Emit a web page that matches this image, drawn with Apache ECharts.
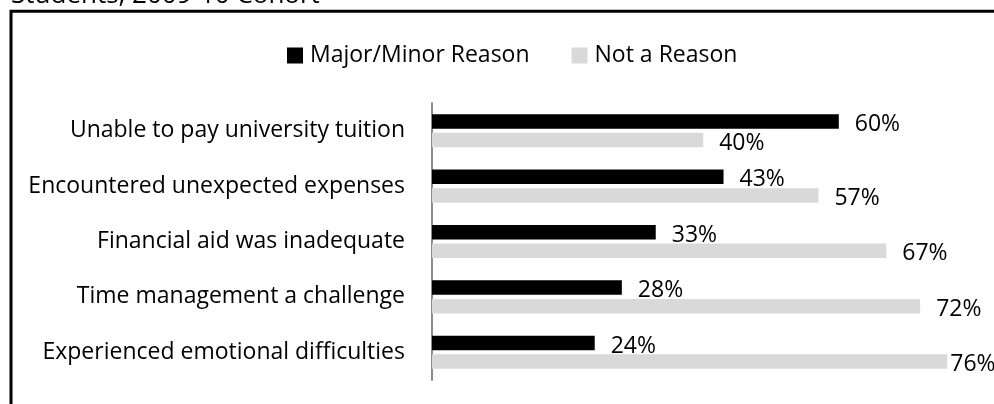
<!DOCTYPE html>
<html>
<head>
<meta charset="utf-8">
<script src="https://cdn.jsdelivr.net/npm/echarts@6/dist/echarts.min.js"></script>
<style>
  html, body { margin: 0; padding: 0; background: #fff; }
  #chart { width: 994px; height: 404px; }
</style>
</head>
<body>
<div id="chart"></div>
<script>
// data
const reasons = [
  "Unable to pay university tuition",
  "Encountered unexpected expenses",
  "Financial aid was inadequate",
  "Time management a challenge",
  "Experienced emotional difficulties",
];
const majorMinor = [60, 43, 33, 28, 24];
const notReason = [40, 57, 67, 72, 76];
const seriesNames = ["Major/Minor Reason", "Not a Reason"];
const titleText = "Students, 2009-10 Cohort";

const font = "'Open Sans', sans-serif";

const chart = echarts.init(document.getElementById("chart"));

function barLabel() {
  return {
    show: true,
    position: "right",
    distance: 16,
    offset: [0, 3],
    formatter: "{c}%",
    fontFamily: font,
    fontSize: 23,
    color: "#000",
  };
}

// the last label sits close to its bar because it runs off the frame
const notReasonData = notReason.map((v, i) =>
  i === notReason.length - 1 ? { value: v, label: { distance: 3 } } : v
);

const option = {
  animation: false,
  backgroundColor: "#fff",
  textStyle: { fontFamily: font },
  graphic: [
    {
      type: "text",
      left: 11,
      y: -4.5,
      style: {
        text: titleText,
        fontFamily: font,
        fontSize: 26,
        fill: "#000",
        verticalAlign: "middle",
      },
    },
    {
      type: "rect",
      shape: { x: 11, y: 11.3, width: 1200, height: 600 },
      style: { fill: "none", stroke: "#000", lineWidth: 3 },
      z: 100,
    },
  ],
  legend: {
    left: 282,
    top: 39,
    itemWidth: 16,
    itemHeight: 16,
    itemGap: 42,
    icon: "rect",
    data: seriesNames,
    textStyle: { fontFamily: font, fontSize: 23, color: "#000", padding: [0, 0, 0, 2] },
  },
  grid: { left: 432, top: 103, height: 277, width: 678, outerBoundsMode: "none" },
  xAxis: {
    type: "value",
    min: 0,
    max: 100,
    show: false,
  },
  yAxis: {
    type: "category",
    inverse: true,
    data: reasons,
    axisLine: { show: true, lineStyle: { color: "#8c8c8c", width: 2 } },
    axisTick: { show: false },
    axisLabel: {
      margin: 27,
      fontFamily: font,
      fontSize: 23,
      color: "#000",
      padding: [3, 0, 0, 0],
    },
  },
  series: [
    {
      name: seriesNames[0],
      type: "bar",
      data: majorMinor,
      barWidth: 14.5,
      barGap: "28%",
      itemStyle: { color: "#000" },
      label: barLabel(),
    },
    {
      name: seriesNames[1],
      type: "bar",
      data: notReasonData,
      barWidth: 14.5,
      itemStyle: { color: "#d9d9d9" },
      label: barLabel(),
    },
  ],
};

chart.setOption(option);
</script>
</body>
</html>
